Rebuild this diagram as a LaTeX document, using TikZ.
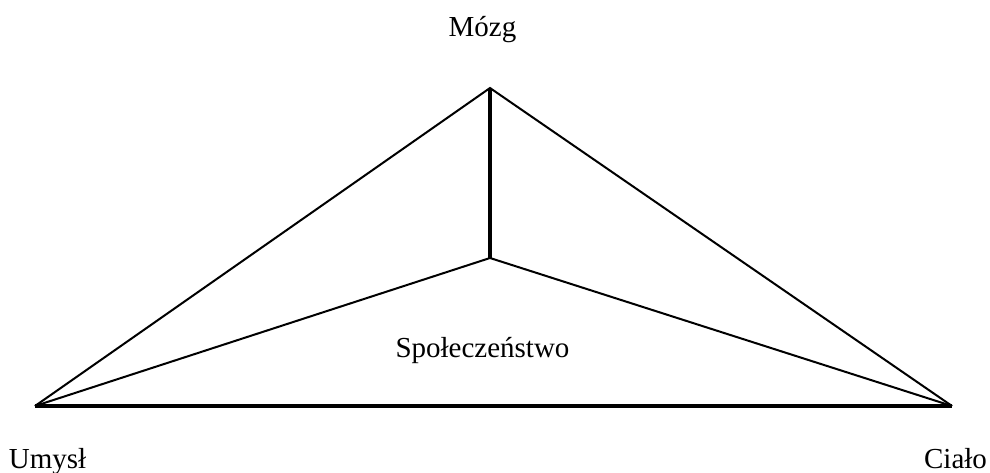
\documentclass[tikz,border=0pt]{standalone}
\usepackage{fontspec}
\setmainfont{Liberation Serif}
\begin{document}
\begin{tikzpicture}[x=1pt,y=1pt,
  thinedge/.style={line width=2pt,line join=miter},
  thickedge/.style={line width=3.6pt,line cap=butt},
  lbl/.style={anchor=base,inner sep=0pt,font=\fontsize{29}{35}\selectfont}]
  \useasboundingbox (0,0) rectangle (990,472);
  % corners of the pyramid seen from above
  \coordinate (apex) at (490,384);
  \coordinate (mid) at (490,214);
  \coordinate (left) at (35,66);
  \coordinate (right) at (952,66);
  % outer triangle and inner edges
  \draw[thinedge] (left) -- (apex) -- (right);
  \draw[thinedge] (left) -- (mid) -- (right);
  \draw[thickedge] (apex) -- (mid);
  \draw[thickedge] (left) -- (right);
  % labels
  \node[lbl] (mozg) at (482.5,435) {Mózg};
  \node[lbl] (spol) at (482.5,115) {Społeczeństwo};
  \node[lbl] (umysl) at (47.5,4) {Umysł};
  \node[lbl] (cialo) at (955.5,4) {Ciało};
\end{tikzpicture}
\end{document}
